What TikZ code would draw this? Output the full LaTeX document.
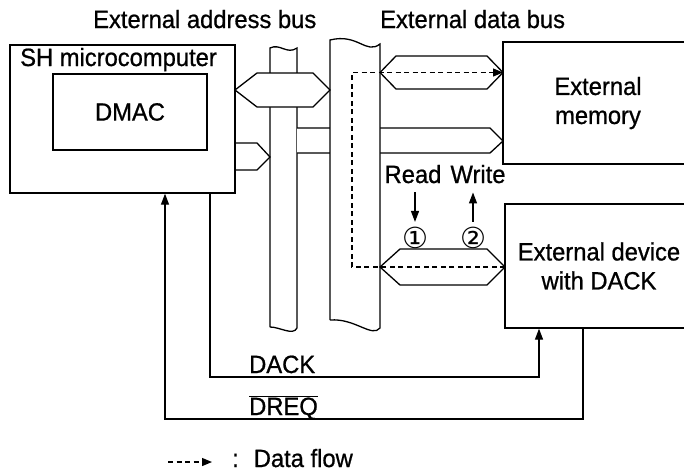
\documentclass[tikz,border=0pt]{standalone}
\usepackage{fontspec}
\setmainfont{Liberation Sans}[FakeStretch=0.95, FakeBold=0.8]
\newfontfamily\circfont{DejaVu Sans}
\usetikzlibrary{arrows.meta, positioning}

\begin{document}
\begin{tikzpicture}[
        x=1pt, y=-1pt,
        font=\fontsize{25}{29}\selectfont,
        unitBlock/.style={
            rectangle, draw=black, line width=1.3pt, inner sep=0pt,
            align=center
        },
        tagText/.style={
            inner sep=0pt
        },
        circText/.style={
            inner sep=0pt, font=\circfont\fontsize{29}{29}\selectfont
        },
        busShape/.style={
            draw=black, fill=white, line width=1.3pt, line join=miter
        },
        sigArrow/.style={
            line width=1.3pt, -{Triangle[length=11pt, width=8pt]}
        },
        flowArrow/.style={
            line width=1.2pt, dash pattern=on 5pt off 3.5pt,
            -{Triangle[length=10pt, width=8pt]}
        }
    ]
        \clip (0,0) rectangle (684,472);

        % Buses
        \draw [busShape] (270,327) -- (270,48) .. controls (280,43) and (287,55) .. (297,48)
            -- (297,328) .. controls (293,336) and (280,327) .. (270,327);
        \draw [busShape] (297,128) -- (490,128) -- (503,141) -- (490,153) -- (297,153);
        \draw [busShape] (330,320) -- (330,40) .. controls (358,33) and (366,55) .. (380,44)
            -- (380,328) .. controls (372,338) and (355,318) .. (330,320);
        \draw [busShape] (235,90) -- (257,73) -- (313,73) -- (330,90) -- (313,107) -- (257,107) -- cycle;
        \draw [busShape] (235.5,143) -- (257,143) -- (270,157) -- (257,170) -- (235.5,170);
        \draw [busShape] (380,72.5) -- (396,56) -- (487,56) -- (503,72.5) -- (487,89) -- (396,89) -- cycle;
        \draw [busShape] (380,267) -- (400,249) -- (487,249) -- (505,267) -- (487,285) -- (400,285) -- cycle;

        % Nodes
        \node (sh) [unitBlock, minimum width=225pt, minimum height=148pt] at (122.5,119) {};
        \node (dmac) [unitBlock, minimum width=154pt, minimum height=76pt] at (130,112) {DMAC};
        \node (mem) [unitBlock, minimum width=190pt, minimum height=122pt] at (598,103) {External\\memory};
        \node (dev) [unitBlock, minimum width=188pt, minimum height=124pt] at (599,266) {External device\\with DACK};

        \node (shname) [tagText, anchor=base west] at (20,66) {SH microcomputer};
        \node (abus) [tagText, anchor=base west] at (93,28) {External address bus};
        \node (dbus) [tagText, anchor=base west] at (380,28) {External data bus};
        \node (rd) [tagText, anchor=base] at (413,183) {Read};
        \node (wr) [tagText, anchor=base] at (478,183) {Write};
        \node (one) [circText] at (415,238) {①};
        \node (two) [circText] at (473,238) {②};
        \node (dack) [tagText, anchor=base west] at (249,373) {DACK};
        \node (dreq) [tagText, anchor=base west] at (249,415) {$\overline{\hbox{DREQ}}$};
        \node (legend) [tagText, anchor=base west] at (232,467) {:\hspace{15pt}Data flow};

        \coordinate (memPort) at (503,72.5);
        \coordinate (devPort) at (505,267);
        \coordinate (flowTop) at (352,72.5);
        \coordinate (flowBot) at (352,267);
        \coordinate (dackBend) at (210,377);
        \coordinate (dackRise) at (539,377);
        \coordinate (dreqBend) at (583,419);
        \coordinate (dreqRise) at (165,419);
        \coordinate (legStart) at (168,462);
        \coordinate (legEnd) at (212,462);

        % Arrows
        \draw [flowArrow] (devPort) -- (flowBot) -- (flowTop) -- (memPort);
        \draw [sigArrow] (sh.south -| dackBend) -- (dackBend) -- (dackRise) -- (dev.south -| dackRise);
        \draw [sigArrow] (dev.south -| dreqBend) -- (dreqBend) -- (dreqRise) -- (sh.south -| dreqRise);
        \draw [sigArrow] ([xshift=2pt, yshift=-9pt]rd.south) -- ([yshift=5pt]one.north);
        \draw [sigArrow] ([yshift=5pt]two.north) -- ([xshift=-5pt, yshift=-9pt]wr.south);
        \draw [flowArrow] (legStart) -- (legEnd);
    \end{tikzpicture}
\end{document}
